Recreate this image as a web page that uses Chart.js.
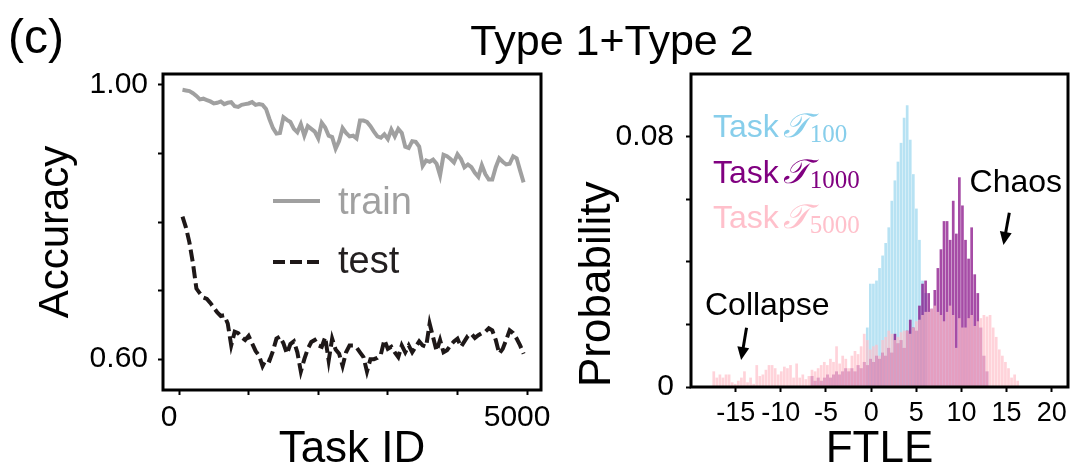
<!DOCTYPE html>
<html>
<head>
<meta charset="utf-8">
<title>Type 1+Type 2</title>
<script src="https://cdn.jsdelivr.net/npm/chart.js@4.4.1/dist/chart.umd.min.js"></script>
<style>
  body { margin: 0; background: #fff; }
  #fig { position: relative; width: 1079px; height: 476px; overflow: hidden; font-family: "Liberation Sans", Arial, sans-serif; color: #000; }
  #panel { position: absolute; left: 8px; top: 13px; font-size: 48px; line-height: 1; }
  #title { position: absolute; left: 412px; width: 400px; top: 19px; font-size: 43px; line-height: 1; text-align: center; }
  canvas { position: absolute; top: 0; }
  #accChart { left: 0; }
  #ftleChart { left: 565px; }
</style>
</head>
<body>
<div id="fig">
  <canvas id="accChart" width="565" height="476"></canvas>
  <canvas id="ftleChart" width="514" height="476"></canvas>
  <div id="panel">(c)</div>
  <div id="title">Type 1+Type 2</div>
</div>
<script>
const FONT = '"Liberation Sans", Arial, sans-serif';
const SERIF = '"Liberation Serif", "DejaVu Serif", serif';

// left panel: accuracy every 50 tasks
const trainAcc = [
  0.993, 0.992, 0.991, 0.988, 0.984, 0.979, 0.980, 0.978, 0.976, 0.973,
  0.974, 0.976, 0.972, 0.974, 0.975, 0.969, 0.968, 0.971, 0.972, 0.973,
  0.975, 0.971, 0.972, 0.971, 0.965, 0.950, 0.937, 0.929, 0.930, 0.953,
  0.949, 0.946, 0.936, 0.931, 0.943, 0.926, 0.940, 0.936, 0.932, 0.922,
  0.945, 0.938, 0.926, 0.924, 0.907, 0.918, 0.937, 0.930, 0.925, 0.926,
  0.922, 0.948, 0.948, 0.946, 0.940, 0.932, 0.925, 0.923, 0.928, 0.921,
  0.935, 0.925, 0.936, 0.930, 0.910, 0.908, 0.918, 0.917, 0.910, 0.882,
  0.890, 0.888, 0.891, 0.885, 0.868, 0.898, 0.896, 0.892, 0.887, 0.899,
  0.892, 0.880, 0.884, 0.880, 0.872, 0.866, 0.883, 0.870, 0.862, 0.862,
  0.880, 0.893, 0.888, 0.884, 0.885, 0.896, 0.893, 0.875, 0.858
];
const testAcc = [
  0.808, 0.792, 0.770, 0.740, 0.703, 0.696, 0.690, 0.688, 0.682, 0.675,
  0.668, 0.663, 0.664, 0.652, 0.620, 0.640, 0.638, 0.632, 0.628, 0.634,
  0.623, 0.612, 0.605, 0.590, 0.600, 0.598, 0.612, 0.630, 0.633, 0.623,
  0.608, 0.622, 0.626, 0.610, 0.582, 0.600, 0.615, 0.625, 0.628, 0.620,
  0.618, 0.632, 0.598, 0.630, 0.614, 0.608, 0.590, 0.610, 0.620, 0.620,
  0.617, 0.610, 0.603, 0.582, 0.600, 0.600, 0.602, 0.607, 0.628, 0.615,
  0.618, 0.610, 0.603, 0.620, 0.610, 0.620, 0.610, 0.618, 0.626, 0.620,
  0.618, 0.652, 0.632, 0.612, 0.628, 0.610, 0.613, 0.620, 0.626, 0.630,
  0.618, 0.626, 0.634, 0.637, 0.631, 0.635, 0.638, 0.640, 0.645, 0.642,
  0.628, 0.608, 0.615, 0.628, 0.642, 0.638, 0.630, 0.620, 0.608
];
const taskIds = trainAcc.map((_, i) => 50 * (i + 1));
const taskTickMarks = [0, 1000, 2000, 3000, 4000, 5000];
const taskTickLabels = [0, 5000];
const accTickMarks = [0.6, 0.7, 0.8, 0.9, 1.0];
const accTickLabels = [0.6, 1.0];

// right panel: FTLE histograms (probability per bin)
const binStart = -17.6;
const binWidth = 0.34;
const pinkProb = [
  0.005, 0.003, 0.004, 0.003, 0.004, 0.004, 0.0015, 0.001, 0.002, 0.003,
  0.005, 0.0015, 0.003, 0.001, 0.007, 0.0035, 0.004, 0.0055, 0.007, 0.007,
  0.006, 0.004, 0.005, 0.0065, 0.006, 0.007, 0.003, 0.0075, 0.003, 0.004,
  0.0025, 0.0035, 0.0055, 0.005, 0.006, 0.007, 0.008, 0.007, 0.009, 0.008,
  0.013, 0.0075, 0.010, 0.009, 0.006, 0.010, 0.0115, 0.0105, 0.013, 0.017,
  0.015, 0.012, 0.013, 0.0135, 0.010, 0.015, 0.016, 0.018, 0.017, 0.015,
  0.016, 0.0175, 0.018, 0.018, 0.017, 0.019, 0.021, 0.0215, 0.023, 0.024,
  0.024, 0.025, 0.026, 0.024, 0.023, 0.021, 0.024, 0.026, 0.023, 0.0125,
  0.022, 0.019, 0.019, 0.022, 0.023, 0.0195, 0.021, 0.022, 0.023, 0.0225,
  0.023, 0.019, 0.016, 0.012, 0.010, 0.008, 0.006, 0.003, 0.004, 0.002
];
const blueFirstBin = 50;
const blueProb = [
  0.019, 0.033, 0.033, 0.034, 0.038, 0.042, 0.046, 0.051, 0.0595, 0.066,
  0.072, 0.078, 0.086, 0.090, 0.079, 0.068, 0.057, 0.047, 0.034, 0.030
];
const purpleFirstBin = 32;
const purpleProb = [
  0.0035, 0.002, 0.003, 0.002, 0.003, 0.004, 0.003, 0.004, 0.005, 0.004,
  0.005, 0.006, 0.005, 0.006, 0.005, 0.007, 0.006, 0.008, 0.007, 0.009,
  0.008, 0.010, 0.009, 0.011, 0.010, 0.0125, 0.011, 0.017, 0.014, 0.015,
  0.0125, 0.018, 0.0215, 0.019, 0.018, 0.026, 0.033, 0.034, 0.030, 0.025,
  0.031, 0.038, 0.044, 0.053, 0.053, 0.047, 0.0595, 0.049, 0.067, 0.058,
  0.047, 0.041, 0.051, 0.036, 0.030, 0.019, 0.010, 0.005
];
const ftleBins = pinkProb.map((_, i) => +(binStart + binWidth * (i + 0.5)).toFixed(3));
const taskNames = ['100', '1000', '5000'];
const ftleTickMarks = [-15, -10, -5, 0, 5, 10, 15, 20];
const probTickMarks = [0, 0.02, 0.04, 0.06, 0.08];
const probTickLabels = [0, 0.08];

const noteText = ['Chaos', 'Collapse'];
const noteAt = [[10.9, 0.0623], [-18.4, 0.023]];
const arrowFrom = [[15.3, 0.0557], [-13.8, 0.0189]];
const arrowTo = [[14.65, 0.0454], [-14.4, 0.0086]];

function bins(values, first) {
  return values.map((v, i) => ({ x: ftleBins[first + i], y: v }));
}

function tickOpts(shown, fmt, extra) {
  return Object.assign({
    color: '#000',
    font: { family: FONT, size: 30 },
    autoSkip: false,
    maxRotation: 0,
    callback: v => shown.some(t => Math.abs(t - v) < 1e-9) ? fmt(v) : ''
  }, extra);
}
const setTicks = marks => s => { s.ticks = marks.map(v => ({ value: v })); };
const grid = { drawOnChartArea: false, drawTicks: true, tickLength: 5, tickWidth: 2, tickColor: '#000', offset: false };
const noBorder = { display: false };
const fixWidth = w => s => { s.width = w; s.paddingTop = 0; s.paddingBottom = 0; };
const fixHeight = h => s => { s.height = h; s.paddingLeft = 0; s.paddingRight = 0; };
function axisTitle(text, size, padding, align) {
  return { display: true, text: text, color: '#000', align: align || 'center',
    font: { family: FONT, size: size, lineHeight: 1.2 }, padding: padding };
}

const frame = {
  id: 'frame',
  afterDatasetsDraw(chart) {
    const { ctx, chartArea: a } = chart;
    ctx.save();
    ctx.lineWidth = 3;
    ctx.strokeStyle = '#000';
    ctx.strokeRect(a.left, a.top, a.right - a.left, a.bottom - a.top);
    ctx.restore();
  }
};

const lineLegend = {
  id: 'lineLegend',
  afterDraw(chart) {
    const ctx = chart.ctx;
    const rows = [[201, 214], [262, 273]];
    chart.data.datasets.forEach((ds, i) => {
      ctx.save();
      ctx.strokeStyle = ds.borderColor;
      ctx.lineWidth = ds.borderWidth;
      ctx.setLineDash(ds.borderDash || []);
      ctx.beginPath();
      ctx.moveTo(273, rows[i][0]);
      ctx.lineTo(320, rows[i][0]);
      ctx.stroke();
      ctx.fillStyle = ds.textColor;
      ctx.font = '38px ' + FONT;
      ctx.fillText(ds.label, 338, rows[i][1]);
      ctx.restore();
    });
  }
};

const taskLegend = {
  id: 'taskLegend',
  afterDraw(chart) {
    const ctx = chart.ctx;
    chart.data.datasets.forEach((ds, i) => {
      const y = 137 + i * 45.5;
      let x = 148;
      ctx.save();
      ctx.fillStyle = ds.textColor;
      ctx.font = '32px ' + FONT;
      ctx.fillText('Task', x, y);
      x += ctx.measureText('Task').width + 4;
      ctx.font = 'italic 34px ' + SERIF;
      ctx.fillText('𝒯', x, y);
      x += ctx.measureText('𝒯').width + 1;
      ctx.font = '25px ' + SERIF;
      ctx.fillText(ds.taskName, x, y + 5);
      ctx.restore();
    });
  }
};

const notes = {
  id: 'notes',
  afterDraw(chart) {
    const { ctx, scales: { x, y } } = chart;
    ctx.save();
    ctx.fillStyle = '#000';
    ctx.strokeStyle = '#000';
    ctx.font = '32px ' + FONT;
    noteText.forEach((t, i) => {
      ctx.fillText(t, x.getPixelForValue(noteAt[i][0]), y.getPixelForValue(noteAt[i][1]));
      const x0 = x.getPixelForValue(arrowFrom[i][0]), y0 = y.getPixelForValue(arrowFrom[i][1]);
      const x1 = x.getPixelForValue(arrowTo[i][0]), y1 = y.getPixelForValue(arrowTo[i][1]);
      const ang = Math.atan2(y1 - y0, x1 - x0);
      const c = Math.cos(ang), s = Math.sin(ang);
      ctx.lineWidth = 3;
      ctx.beginPath();
      ctx.moveTo(x0, y0);
      ctx.lineTo(x1 - 9 * c, y1 - 9 * s);
      ctx.stroke();
      ctx.beginPath();
      ctx.moveTo(x1, y1);
      ctx.lineTo(x1 - 13 * c + 6 * s, y1 - 13 * s - 6 * c);
      ctx.lineTo(x1 - 13 * c - 6 * s, y1 - 13 * s + 6 * c);
      ctx.closePath();
      ctx.fill();
    });
    ctx.restore();
  }
};

new Chart(document.getElementById('accChart'), {
  type: 'line',
  data: {
    datasets: [
      {
        label: 'train',
        data: taskIds.map((t, i) => ({ x: t, y: trainAcc[i] })),
        borderColor: '#a0a0a0',
        textColor: '#a0a0a0',
        borderWidth: 4,
        pointRadius: 0,
        tension: 0
      },
      {
        label: 'test',
        data: taskIds.map((t, i) => ({ x: t, y: testAcc[i] })),
        borderColor: '#1e1818',
        textColor: '#231f20',
        borderWidth: 4,
        borderDash: [12, 5],
        pointRadius: 0,
        tension: 0
      }
    ]
  },
  options: {
    responsive: false,
    animation: false,
    devicePixelRatio: 1,
    layout: { padding: { left: 0, top: 74, right: 24, bottom: 0 } },
    plugins: { legend: { display: false }, tooltip: { enabled: false } },
    scales: {
      x: {
        type: 'linear', min: -230, max: 5200, offset: false,
        afterBuildTicks: setTicks(taskTickMarks),
        ticks: tickOpts(taskTickLabels, v => String(v), { padding: 5, labelOffset: -10 }),
        grid: grid, border: noBorder,
        title: axisTitle('Task ID', 44, { top: 0, bottom: 0 }),
        afterFit: fixHeight(86)
      },
      y: {
        min: 0.555, max: 1.016,
        afterBuildTicks: setTicks(accTickMarks),
        ticks: tickOpts(accTickLabels, v => v.toFixed(2), { padding: 10 }),
        grid: grid, border: noBorder,
        title: axisTitle('Accuracy', 42, { top: 31, bottom: 0 }),
        afterFit: fixWidth(163)
      }
    }
  },
  plugins: [frame, lineLegend]
});

new Chart(document.getElementById('ftleChart'), {
  type: 'bar',
  data: {
    datasets: [
      {
        label: 'Task 𝒯100', taskName: taskNames[0],
        data: bins(blueProb, blueFirstBin),
        backgroundColor: 'rgba(135, 206, 235, 0.6)', textColor: '#87ceeb',
        order: 2
      },
      {
        label: 'Task 𝒯1000', taskName: taskNames[1],
        data: bins(purpleProb, purpleFirstBin),
        backgroundColor: 'rgba(128, 0, 128, 0.7)', textColor: '#800080',
        order: 1
      },
      {
        label: 'Task 𝒯5000', taskName: taskNames[2],
        data: bins(pinkProb, 0),
        backgroundColor: 'rgba(255, 192, 203, 0.7)', textColor: '#ffc0cb',
        order: 0
      }
    ]
  },
  options: {
    responsive: false,
    animation: false,
    devicePixelRatio: 1,
    datasets: { bar: { grouped: false, barPercentage: 0.88, categoryPercentage: 1 } },
    layout: { padding: { left: 0, top: 74, right: 11, bottom: 0 } },
    plugins: { legend: { display: false }, tooltip: { enabled: false } },
    scales: {
      x: {
        type: 'linear', min: -19.95, max: 21.8, offset: false,
        afterBuildTicks: setTicks(ftleTickMarks),
        ticks: tickOpts(ftleTickMarks, v => String(v), { padding: 5, font: { family: FONT, size: 27 } }),
        grid: grid, border: noBorder,
        title: axisTitle('FTLE', 44, { top: 0, bottom: 0 }),
        afterFit: fixHeight(89)
      },
      y: {
        min: 0, max: 0.1,
        afterBuildTicks: setTicks(probTickMarks),
        ticks: tickOpts(probTickLabels, v => (v === 0 ? '0' : v.toFixed(2)), { padding: 12 }),
        grid: grid, border: noBorder,
        title: axisTitle('Probability', 44, { top: 6, bottom: 0 }, 'start'),
        afterFit: fixWidth(126)
      }
    }
  },
  plugins: [frame, taskLegend, notes]
});
</script>
</body>
</html>
